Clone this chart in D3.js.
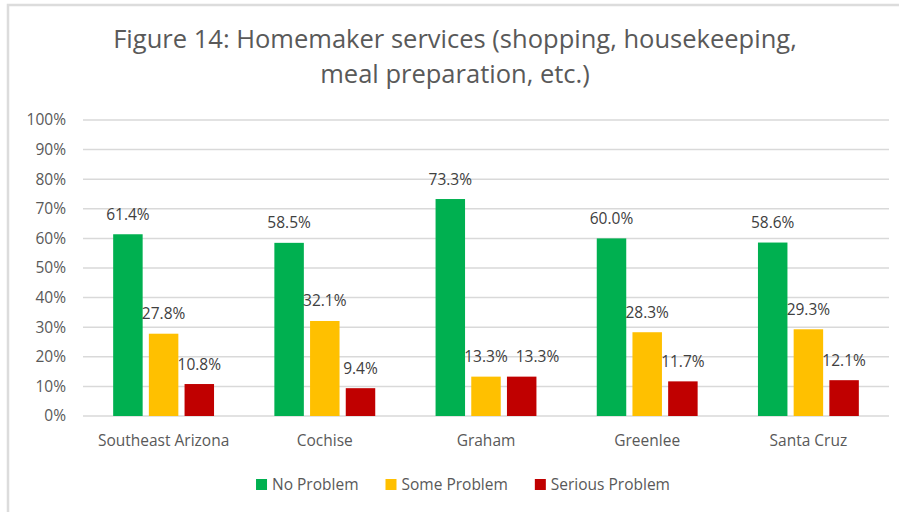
<!doctype html>
<html lang="en">
<head>
	<meta charset="UTF-8">
	<title>Figure 14</title>
	<script src="https://d3js.org/d3.v7.min.js"></script>
	<style>
		body {
			margin: 0;
			padding: 0;
			background: #fff;
			font-family: "Open Sans", sans-serif;
		}
	</style>
</head>
<body>
	<div id="chart"></div>

	<script>
		// Data
		const categories = ['Southeast Arizona', 'Cochise', 'Graham', 'Greenlee', 'Santa Cruz'];
		const seriesNames = ['No Problem', 'Some Problem', 'Serious Problem'];
		const noProblem = [61.4, 58.5, 73.3, 60.0, 58.6];
		const someProblem = [27.8, 32.1, 13.3, 28.3, 29.3];
		const seriousProblem = [10.8, 9.4, 13.3, 11.7, 12.1];
		const yTicks = [0, 10, 20, 30, 40, 50, 60, 70, 80, 90, 100];
		const titleLines = ['Figure 14: Homemaker services (shopping, housekeeping,', 'meal preparation, etc.)'];

		const seriesValues = [noProblem, someProblem, seriousProblem];
		const colors = d3.scaleOrdinal()
			.domain(seriesNames)
			.range(['#00b050', '#ffc000', '#c00000']);

		const width = 899;
		const height = 512;
		const margin = { top: 120, right: 10, bottom: 96, left: 83 };

		const svg = d3.select('#chart')
			.append('svg')
			.attr('width', width)
			.attr('height', height);

		// chart area border (only top and left visible)
		svg.append('rect')
			.attr('x', 8)
			.attr('y', 5)
			.attr('width', width + 20)
			.attr('height', height + 20)
			.attr('fill', '#fff')
			.attr('stroke', '#dcdcdc')
			.attr('stroke-width', 2.5);

		// Title
		const title = svg.append('g')
			.attr('fill', '#595959')
			.attr('font-size', 24)
			.attr('text-anchor', 'middle');

		title.selectAll('text')
			.data(titleLines)
			.enter().append('text')
			.attr('x', 455)
			.attr('y', (d, i) => 48 + i * 35)
			.text((d) => d);

		// scale title to fit
		const firstLine = title.select('text').node();
		const titleScale = 684 / firstLine.getComputedTextLength();
		title.attr('font-size', 24 * titleScale);

		// Scales
		const x0 = d3.scaleBand()
			.domain(categories)
			.range([margin.left, width - margin.right])
			.paddingInner(0)
			.paddingOuter(0);

		const x1 = d3.scaleBand()
			.domain(seriesNames)
			.range([0, x0.bandwidth()])
			.paddingInner(0.174)
			.paddingOuter(0.845);

		const y = d3.scaleLinear()
			.domain([0, 100])
			.range([height - margin.bottom, margin.top]);

		// Gridlines
		svg.append('g')
			.selectAll('line')
			.data(yTicks)
			.enter().append('line')
			.attr('x1', margin.left)
			.attr('x2', width - margin.right)
			.attr('y1', (d) => y(d))
			.attr('y2', (d) => y(d))
			.attr('stroke', '#d9d9d9')
			.attr('stroke-width', 1.5);

		// Y axis labels
		const yAxis = d3.axisLeft(y)
			.tickValues(yTicks)
			.tickSize(0)
			.tickPadding(0)
			.tickFormat((d) => d + '%');

		svg.append('g')
			.attr('transform', 'translate(66,0)')
			.call(yAxis)
			.call((g) => g.select('.domain').remove())
			.selectAll('text')
			.attr('fill', '#595959')
			.attr('font-size', 15.5)
			.attr('font-family', '"Open Sans", sans-serif');

		// Bars
		const groups = svg.append('g')
			.selectAll('.group')
			.data(categories)
			.enter().append('g')
			.attr('class', 'group')
			.attr('transform', (d) => 'translate(' + x0(d) + ',0)');

		const barData = (c, ci) => seriesNames.map((s, si) => ({ series: s, value: seriesValues[si][ci] }));

		groups.selectAll('rect')
			.data(barData)
			.enter().append('rect')
			.attr('x', (d) => x1(d.series))
			.attr('y', (d) => y(d.value))
			.attr('width', x1.bandwidth())
			.attr('height', (d) => y(0) - y(d.value))
			.attr('fill', (d) => colors(d.series));

		// Data labels
		groups.each(function (c, ci) {
			const g = d3.select(this);
			let prev = null;
			barData(c, ci).forEach((d) => {
				let cx = x1(d.series) + x1.bandwidth() / 2;
				const ty = y(d.value) - 14.5;
				const t = g.append('text')
					.attr('text-anchor', 'middle')
					.attr('font-size', 15.5)
					.attr('fill', '#404040')
					.attr('x', cx)
					.attr('y', ty)
					.text(d.value.toFixed(1) + '%');
				// push labels that collide with the previous one to the right
				const w = t.node().getComputedTextLength();
				if (prev && Math.abs(prev.y - ty) < 14 && cx - w / 2 < prev.right + 8) {
					cx = prev.right + 8 + w / 2;
					t.attr('x', cx);
				}
				prev = { right: cx + w / 2, y: ty };
			});
		});

		// Category labels
		svg.append('g')
			.selectAll('text')
			.data(categories)
			.enter().append('text')
			.attr('x', (d) => x0(d) + x0.bandwidth() / 2)
			.attr('y', 446)
			.attr('text-anchor', 'middle')
			.attr('font-size', 15.5)
			.attr('fill', '#595959')
			.text((d) => d);

		// Legend
		const legSqr = 11;
		const legend = svg.append('g');
		const items = legend.selectAll('.legend')
			.data(seriesNames)
			.enter().append('g')
			.attr('class', 'legend');

		items.append('rect')
			.attr('width', legSqr)
			.attr('height', legSqr)
			.attr('y', 479)
			.attr('fill', colors);

		items.append('text')
			.attr('x', legSqr + 5)
			.attr('y', 490)
			.attr('font-size', 15.5)
			.attr('fill', '#595959')
			.text((d) => d);

		let offset = 0;
		const offsets = [];
		items.each(function () {
			offsets.push(offset);
			offset += this.getBBox().width + 27;
		});
		const legWidth = offset - 27;
		items.attr('transform', (d, i) => 'translate(' + (463 - legWidth / 2 + offsets[i]) + ',0)');
	</script>
</body>
</html>
